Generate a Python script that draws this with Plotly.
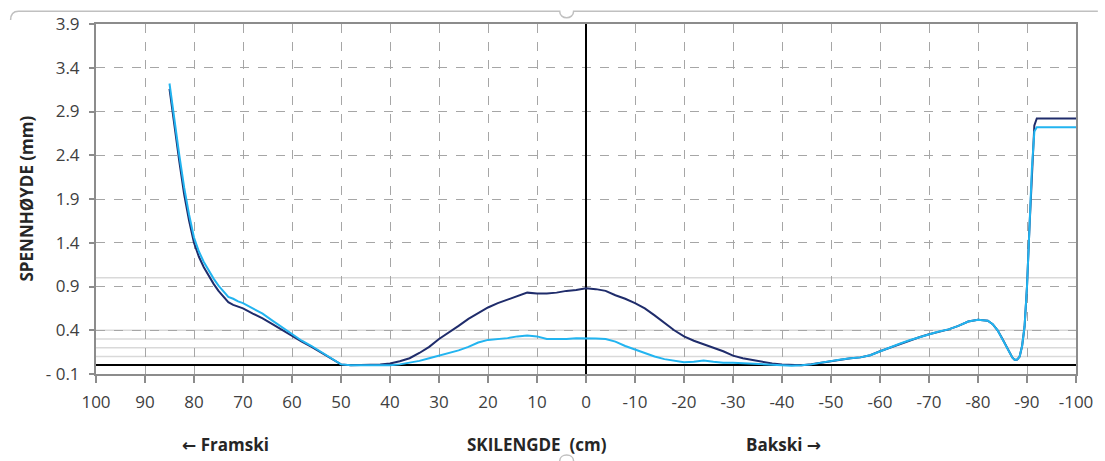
import plotly.graph_objects as go

# ---------------- data ----------------
x_left = [85, 84, 83, 82, 81, 80, 79, 78, 77, 76, 75, 74, 73, 72, 71, 70, 68, 66, 64, 62,
          60, 58, 56, 54, 52, 50, 48, 46, 44, 42, 40, 38, 36, 34, 32, 30, 28, 26, 24, 22,
          20, 18, 16, 14, 12, 10, 8, 6, 4, 2, 0, -2, -4, -6, -8, -10, -12, -14, -16, -18,
          -20, -22, -24, -26, -28, -30, -32, -34, -36, -38, -40, -42, -44, -46, -48]

dark_left = [3.16, 2.72, 2.33, 1.95, 1.65, 1.40, 1.24, 1.12, 1.02, 0.93, 0.85, 0.78, 0.72, 0.69, 0.67, 0.65, 0.59, 0.535, 0.47, 0.40,
             0.33, 0.27, 0.21, 0.14, 0.07, 0.01, 0.0, 0.0, 0.005, 0.01, 0.02, 0.045, 0.08, 0.14, 0.21, 0.30, 0.37, 0.45, 0.53, 0.60,
             0.66, 0.71, 0.75, 0.79, 0.83, 0.82, 0.82, 0.83, 0.85, 0.86, 0.88, 0.87, 0.85, 0.80, 0.76, 0.71, 0.65, 0.57, 0.48, 0.40,
             0.33, 0.28, 0.24, 0.20, 0.16, 0.11, 0.08, 0.06, 0.04, 0.02, 0.01, 0.005, 0.0, 0.012, 0.03]

light_left = [3.22, 2.80, 2.40, 2.03, 1.72, 1.46, 1.30, 1.18, 1.08, 0.99, 0.91, 0.84, 0.78, 0.76, 0.73, 0.71, 0.65, 0.59, 0.51, 0.43,
              0.35, 0.28, 0.22, 0.15, 0.07, 0.01, 0.0, 0.0, 0.0, 0.0, 0.0, 0.01, 0.03, 0.05, 0.08, 0.11, 0.14, 0.17, 0.21, 0.26,
              0.29, 0.30, 0.31, 0.33, 0.34, 0.33, 0.30, 0.30, 0.30, 0.31, 0.31, 0.305, 0.30, 0.27, 0.22, 0.18, 0.14, 0.10, 0.07, 0.05,
              0.035, 0.04, 0.055, 0.04, 0.03, 0.03, 0.025, 0.02, 0.015, 0.01, 0.0, -0.005, 0.0, 0.01, 0.03]

# tail section where both series coincide
x_tail = [-50, -52, -54, -56, -58, -60, -62, -64, -66, -68, -70, -72, -74, -76, -78, -80, -82, -83,
          -84, -85, -86, -87, -87.5, -88, -88.5, -89, -89.5, -90, -90.5, -91]
y_tail = [0.05, 0.065, 0.08, 0.09, 0.115, 0.16, 0.20, 0.245, 0.285, 0.32, 0.355, 0.385, 0.41, 0.45, 0.50, 0.52, 0.51, 0.47,
          0.40, 0.30, 0.19, 0.09, 0.06, 0.065, 0.10, 0.22, 0.44, 0.90, 1.57, 2.25]

x_end = [-91.5, -92, -100]
dark_end = [2.74, 2.82, 2.82]
light_end = [2.67, 2.72, 2.72]

x_all = x_left + x_tail + x_end
dark = dark_left + y_tail + dark_end
light = light_left + y_tail + light_end

x_ticks = list(range(100, -101, -10))
y_ticks = [-0.1, 0.4, 0.9, 1.4, 1.9, 2.4, 2.9, 3.4, 3.9]
y_ticktext = ["- 0.1", "0.4", "0.9", "1.4", "1.9", "2.4", "2.9", "3.4", "3.9"]
ref_lines = [0.1, 0.2, 0.3, 0.4, 1.0]

DARK = "#1F2C6B"
LIGHT = "#22B4F0"
FONT = "Open Sans"
ARROW = "<span style=\"font-family:'DejaVu Sans'\">{}</span>"

# ---------------- figure ----------------
fig = go.Figure()
fig.add_trace(go.Scatter(x=x_all, y=dark, mode="lines",
                         line=dict(color=DARK, width=2), showlegend=False, hoverinfo="skip"))
fig.add_trace(go.Scatter(x=x_all, y=light, mode="lines",
                         line=dict(color=LIGHT, width=2), showlegend=False, hoverinfo="skip"))

L, R, T, B = 96, 22, 20, 87
W, H = 1105, 461
PW, PH = W - L - R, H - T - B


def px(xp):
    return (xp - L) / PW


def py(yp):
    return (H - B - yp) / PH


shapes = []
for v in ref_lines:
    shapes.append(dict(type="line", xref="paper", yref="y", x0=0, x1=1, y0=v, y1=v,
                       line=dict(color="#D9D9D9", width=1.5), layer="below"))

# outer chart frame (top edge with rounded corner and handle)
shapes.append(dict(type="path", xref="paper", yref="paper",
                   path=(f"M {px(10)},{py(16)} Q {px(10)},{py(7)} {px(18)},{py(7)} "
                         f"L {px(563)},{py(7)} C {px(563)},{py(16)} {px(577)},{py(16)} {px(577)},{py(7)} "
                         f"L {px(1105)},{py(7)}"),
                   line=dict(color="#C0C0C0", width=1.5)))
shapes.append(dict(type="path", xref="paper", yref="paper",
                   path=f"M {px(563)},{py(462)} C {px(563)},{py(454)} {px(577)},{py(454)} {px(577)},{py(462)}",
                   line=dict(color="#C0C0C0", width=1.5)))

title_font = dict(family=FONT, size=17, color="#262626")
annotations = [
    dict(text="<b>SPENNHØYDE (mm)</b>", xref="paper", yref="paper", x=px(25), y=py(197),
         textangle=-90, showarrow=False, font=dict(family=FONT, size=17, color="#262626"),
         xanchor="center", yanchor="middle"),
    dict(text="<b>" + ARROW.format("←") + " Framski</b>", xref="paper", yref="paper", x=px(226), y=py(445),
         showarrow=False, font=title_font, xanchor="center", yanchor="middle"),
    dict(text="<b>SKILENGDE  (cm)</b>", xref="paper", yref="paper", x=px(540), y=py(445),
         showarrow=False, font=title_font, xanchor="center", yanchor="middle"),
    dict(text="<b>Bakski " + ARROW.format("→") + "</b>", xref="paper", yref="paper", x=px(788), y=py(445),
         showarrow=False, font=title_font, xanchor="center", yanchor="middle"),
]

axis_common = dict(
    showgrid=True, gridcolor="#A6A6A6", gridwidth=1, griddash="dash",
    showline=True, linecolor="#8C8C8C", linewidth=2, mirror=True,
    ticks="outside", tickcolor="#8C8C8C", tickwidth=1.5,
    zeroline=True, zerolinecolor="#000000", zerolinewidth=1.5,
    tickfont=dict(family=FONT, size=17, color="#404040"),
)

fig.update_layout(
    width=W, height=H,
    margin=dict(l=L, r=R, t=T, b=B),
    paper_bgcolor="white", plot_bgcolor="white",
    hovermode=False,
    xaxis=dict(range=[100, -100], tickmode="array", tickvals=x_ticks,
               ticktext=[str(t) for t in x_ticks], ticklen=7, ticklabelstandoff=5,
               **axis_common),
    yaxis=dict(range=[-0.1, 3.9], tickmode="array", tickvals=y_ticks,
               ticktext=y_ticktext, ticklen=5, ticklabelstandoff=6,
               **axis_common),
    shapes=shapes,
    annotations=annotations,
)

fig.write_html("out.html", config={"displayModeBar": False, "responsive": False},
               post_script="document.body.style.margin='0';document.body.style.overflow='hidden';")
